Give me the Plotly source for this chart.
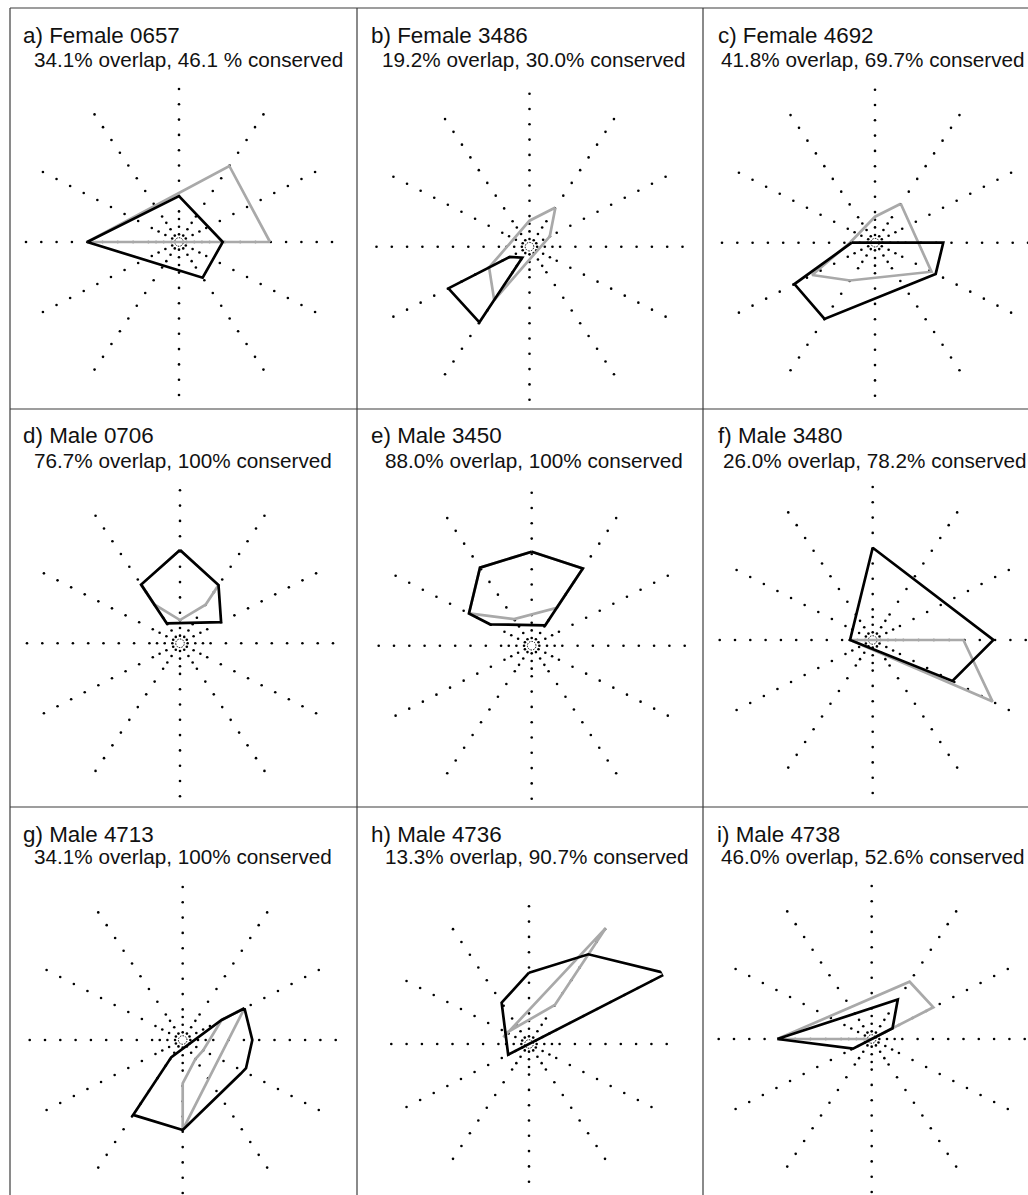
import plotly.graph_objects as go

# ---------------------------------------------------------------------------
# Data
# ---------------------------------------------------------------------------
PANEL_TITLES = [
    "a) Female 0657", "b) Female 3486", "c) Female 4692",
    "d) Male 0706", "e) Male 3450", "f) Male 3480",
    "g) Male 4713", "h) Male 4736", "i) Male 4738",
]
PANEL_SUBTITLES = [
    "34.1% overlap, 46.1 % conserved",
    "19.2% overlap, 30.0% conserved",
    "41.8% overlap, 69.7% conserved",
    "76.7% overlap, 100% conserved",
    "88.0% overlap, 100% conserved",
    "26.0% overlap, 78.2% conserved",
    "34.1% overlap, 100% conserved",
    "13.3% overlap, 90.7% conserved",
    "46.0% overlap, 52.6% conserved",
]

# direction spokes (degrees, counter-clockwise from east) and the dotted marks on them
SPOKE_ANGLES = [0, 27.2, 56.5, 90, 123.5, 152.8, 180, 207.2, 236.5, 270, 303.5, 332.8]
SPOKE_MARKS = [0.5, 1, 1.5, 2, 3, 4, 5, 6, 7, 8, 9, 10]

# black polygon vertices per panel
BLACK_THETA = [
    [180, 90, 0, 303.5],
    [207.2, 236.5, 236.5, 207.2],
    [180, 0, 332.8, 236.5, 207.2],
    [90, 56.5, 27.2, 123.5, 123.5],
    [90, 56.5, 56.5, 152.8, 152.8, 123.5],
    [90, 0, 332.8, 180],
    [27.2, 0, 336, 330, 270, 236.5, 236.5, 27.2],
    [90, 56.5, 27.2, 207.2, 123.5],
    [180, 56.5, 27.2, 207.2],
]
BLACK_R = [
    [6.0, 3.0, 2.86, 2.8],
    [5.96, 5.93, 0.86, 1.45],
    [1.52, 4.46, 4.46, 5.98, 5.92],
    [6.1, 4.56, 3.02, 1.57, 4.6],
    [6.14, 6.05, 1.6, 3.06, 4.61, 6.12],
    [6.03, 7.89, 5.86, 1.48],
    [4.54, 4.55, 4.53, 4.39, 5.88, 5.87, 1.34, 2.86],
    [4.66, 7.03, 10.1, 1.53, 3.24],
    [6.17, 3.09, 1.53, 1.37],
]

# grey polygon vertices per panel
GRAY_THETA = [
    [0, 56.5, 180],
    [56.5, 90, 207.2, 236.5, 27.2],
    [56.5, 332.8, 236.5, 207.2, 180, 90],
    [90, 56.5, 56.5, 90, 123.5, 123.5],
    [152.8, 123.5, 56.5, 56.5, 90, 123.5],
    [180, 0, 332.8],
    [27.2, 270, 270, 303.5, 332.8, 27.2],
    [56.5, 56.5, 152.8, 165.4],
    [180, 56.5, 27.2, 27.2],
]
GRAY_R = [
    [5.95, 5.96, 6.0],
    [3.07, 1.7, 2.97, 4.18, 1.49],
    [3.05, 4.15, 2.96, 4.62, 1.64, 1.7],
    [6.1, 4.56, 3.03, 1.52, 3.04, 4.6],
    [4.61, 2.08, 2.97, 6.05, 6.14, 6.12],
    [1.48, 5.93, 8.81],
    [4.54, 5.88, 2.83, 1.5, 1.5, 2.86],
    [9.08, 3.06, 1.63, 1.73],
    [6.17, 4.49, 4.53, 0.0],
]

# ---------------------------------------------------------------------------
# Layout (pixels)
# ---------------------------------------------------------------------------
W, H = 1028, 1195
PX_PER_UNIT = 15.3
CENTERS = [
    (179, 242), (529.5, 246.7), (875, 242.7),
    (180, 643.3), (531.7, 645.7), (872.7, 640),
    (182.7, 1040), (529, 1044), (871.7, 1039),
]
TITLE_POS = [
    (21, 35, 32, 59), (369, 35, 380, 59), (716, 35, 719, 59),
    (21, 435, 32, 460), (369, 435, 383, 460), (716, 435, 720.5, 460),
    (21, 834, 32, 857), (369, 834, 383, 857), (715, 834, 719, 857),
]
COL_LINES = [10, 357, 703]
ROW_LINES = [8, 409, 807]

TITLE_FONT = dict(family="Liberation Sans, Arial, sans-serif", size=22.4, color="#111")
SUB_FONT = dict(family="Liberation Sans, Arial, sans-serif", size=20.7, color="#111")


def px(x):
    return x / W


def py(y):
    return 1 - y / H


def closed(seq):
    return list(seq) + [seq[0]]


fig = go.Figure()
layout_polars = {}

for i in range(9):
    cx, cy = CENTERS[i]
    half = min(153.0, cx, W - cx, cy, H - cy)
    rmax = half / PX_PER_UNIT
    name = "polar" if i == 0 else f"polar{i + 1}"
    sub = name

    layout_polars[name] = dict(
        domain=dict(x=[px(cx - half), px(cx + half)], y=[py(cy + half), py(cy - half)]),
        bgcolor="rgba(0,0,0,0)",
        radialaxis=dict(visible=False, range=[0, rmax]),
        angularaxis=dict(visible=False, rotation=0, direction="counterclockwise"),
    )

    # dotted spokes
    dot_r, dot_t = [], []
    for a in SPOKE_ANGLES:
        for r in SPOKE_MARKS:
            dot_r.append(r)
            dot_t.append(a)
    fig.add_trace(go.Scatterpolar(
        r=dot_r, theta=dot_t, mode="markers", subplot=sub,
        marker=dict(size=2.6, color="#000"), cliponaxis=False,
        showlegend=False, hoverinfo="skip",
    ))
    # small dotted ring at the origin
    ring_t = list(range(0, 361, 10))
    fig.add_trace(go.Scatterpolar(
        r=[0.28] * len(ring_t), theta=ring_t, mode="lines", subplot=sub,
        line=dict(color="#000", width=1.0, dash="1.5px,1.2px"), cliponaxis=False,
        showlegend=False, hoverinfo="skip",
    ))
    # grey polygon
    fig.add_trace(go.Scatterpolar(
        r=closed(GRAY_R[i]), theta=closed(GRAY_THETA[i]), mode="lines", subplot=sub,
        line=dict(color="#a9a9a9", width=2.7), cliponaxis=False,
        showlegend=False, hoverinfo="skip",
    ))
    # black polygon
    fig.add_trace(go.Scatterpolar(
        r=closed(BLACK_R[i]), theta=closed(BLACK_THETA[i]), mode="lines", subplot=sub,
        line=dict(color="#000", width=2.7), cliponaxis=False,
        showlegend=False, hoverinfo="skip",
    ))

annotations = []
for i in range(9):
    tx, ty, sx, sy = TITLE_POS[i]
    annotations.append(dict(
        text=PANEL_TITLES[i], x=px(tx), y=py(ty), xref="paper", yref="paper",
        xanchor="left", yanchor="middle", showarrow=False, font=TITLE_FONT,
    ))
    annotations.append(dict(
        text=PANEL_SUBTITLES[i], x=px(sx), y=py(sy), xref="paper", yref="paper",
        xanchor="left", yanchor="middle", showarrow=False, font=SUB_FONT,
    ))

shapes = []
for yl in ROW_LINES:
    shapes.append(dict(type="line", xref="paper", yref="paper",
                       x0=px(COL_LINES[0]), x1=1, y0=py(yl), y1=py(yl),
                       line=dict(color="#3c3c3c", width=1.2)))
for xl in COL_LINES:
    shapes.append(dict(type="line", xref="paper", yref="paper",
                       x0=px(xl), x1=px(xl), y0=py(ROW_LINES[0]), y1=0,
                       line=dict(color="#3c3c3c", width=1.2)))

fig.update_layout(
    width=W, height=H,
    margin=dict(l=0, r=0, t=0, b=0),
    paper_bgcolor="white", plot_bgcolor="white",
    showlegend=False,
    annotations=annotations,
    shapes=shapes,
    **layout_polars,
)

fig.write_html("out.html")
